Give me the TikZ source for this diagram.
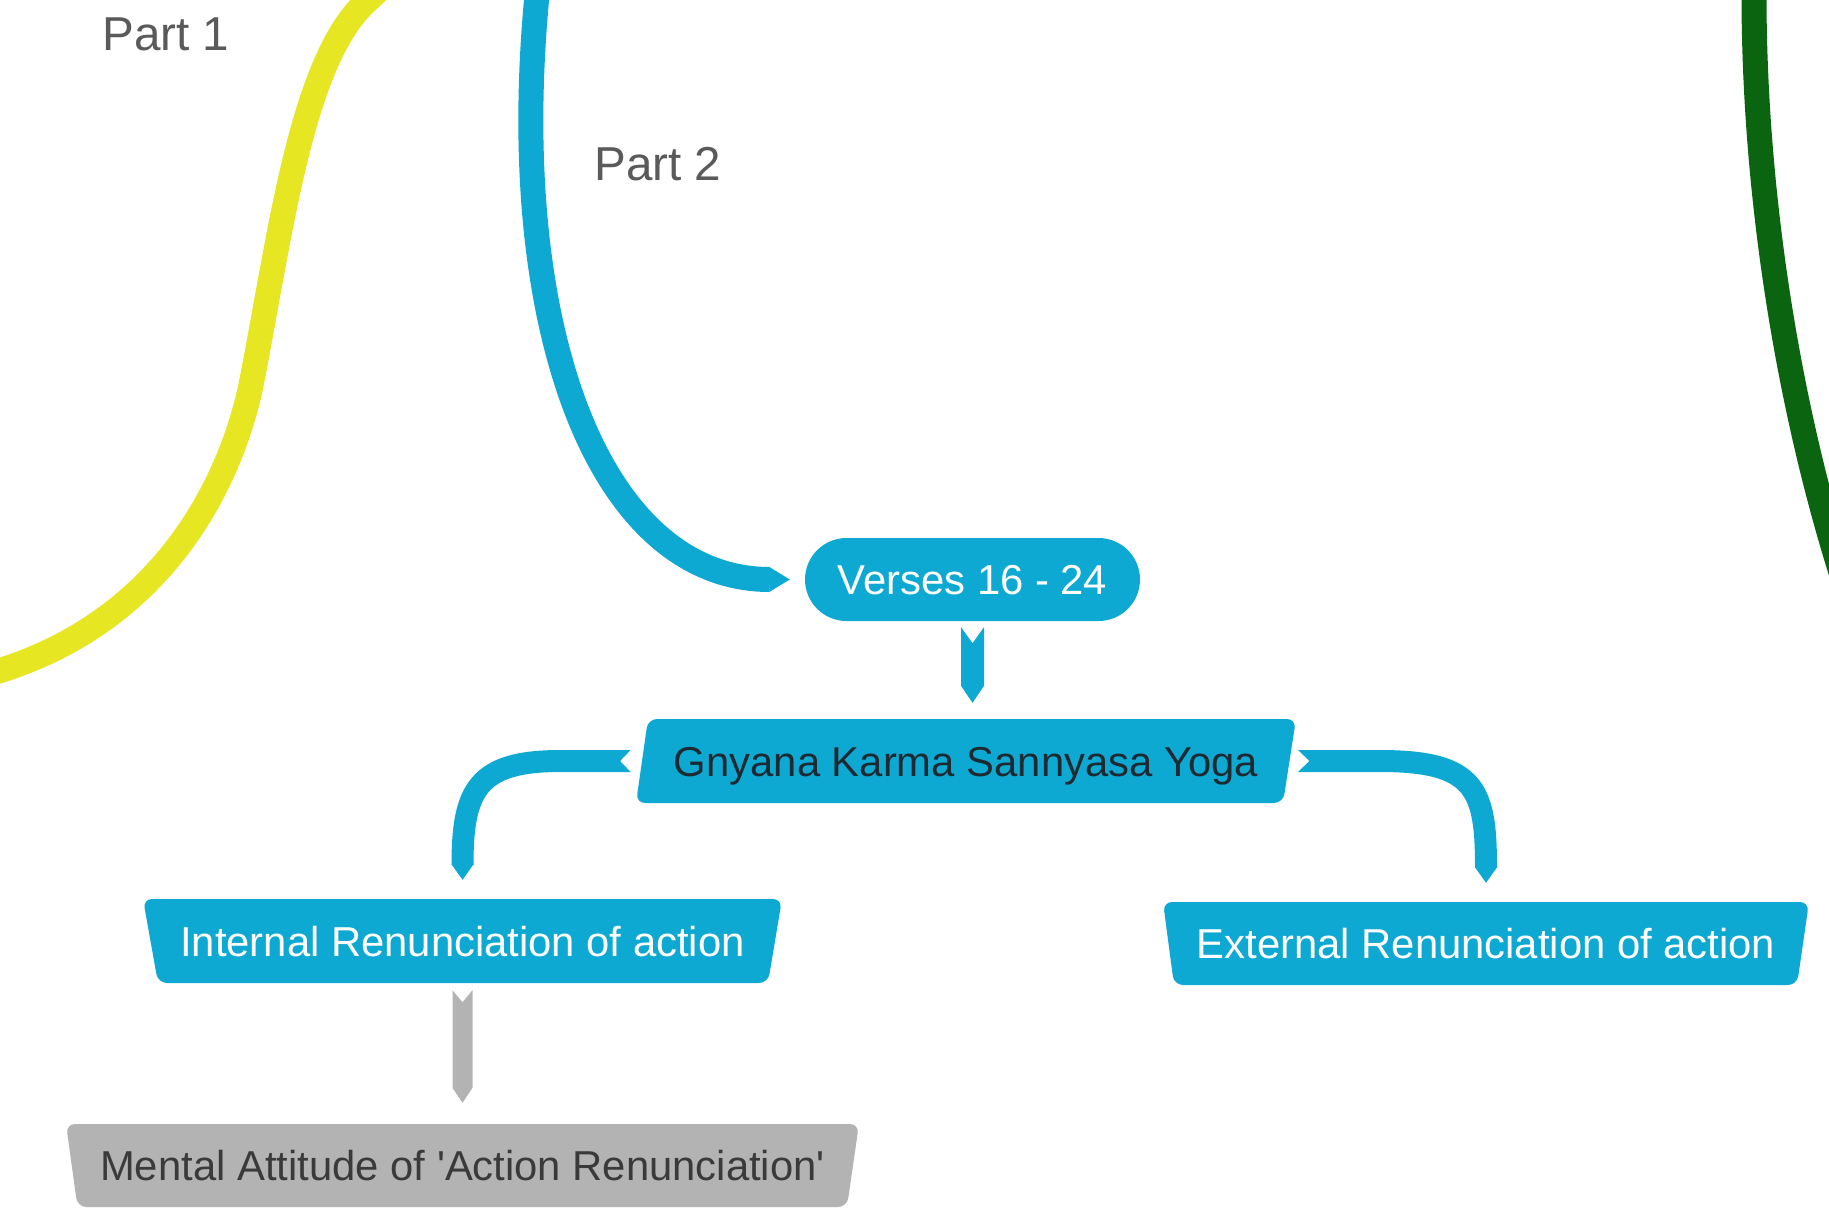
\documentclass[tikz,border=0pt]{standalone}
\usepackage{fontspec}
\setmainfont{Liberation Sans}
\usetikzlibrary{calc}
\definecolor{blueC}{RGB}{14,169,210}
\definecolor{yellowC}{RGB}{230,230,35}
\definecolor{greenC}{RGB}{11,101,16}
\definecolor{greyC}{RGB}{179,179,179}
\definecolor{darkT}{RGB}{30,42,50}
\definecolor{greyT}{RGB}{58,58,58}
\definecolor{partT}{RGB}{90,90,90}
\begin{document}
\begin{tikzpicture}[x=1pt,y=-1pt,
  lbl/.style={font=\fontsize{41.8}{50}\selectfont, text height=30pt, text depth=0pt, inner sep=0pt},
  tbox/.style n args={5}{lbl, path picture={\fill[#1, rounded corners=9pt]
      ([xshift=#2]path picture bounding box.north west) --
      ([xshift=-#3]path picture bounding box.north east) --
      ([xshift=-#4]path picture bounding box.south east) --
      ([xshift=#5]path picture bounding box.south west) -- cycle;}},
  pill/.style={lbl, fill=blueC, rounded corners=41.5pt, text=white},
  partlbl/.style={font=\fontsize{47.6}{56}\selectfont, text height=34pt, text depth=0pt, inner sep=0pt, text=partT},
  branch/.style={line width=25pt},
  ribbon/.style={line width=22pt},
]
\useasboundingbox (0,0) rectangle (1829,1213);
\fill[white] (0,0) rectangle (1829,1213);
\clip (0,0) rectangle (1829,1213);

% labels
\node[partlbl] (p1) at (166,33) {Part 1};
\node[partlbl] (p2) at (658,163) {Part 2};

% nodes
\node[pill, minimum width=335, minimum height=83] (verses) at (972.5,579.5) {Verses 16 - 24};
\node[tbox={blueC}{12}{0}{13}{0}, minimum width=660, minimum height=84, text=darkT] (gnyana) at (966,761) {Gnyana Karma Sannyasa Yoga};
\node[tbox={blueC}{0}{0}{14}{15}, minimum width=639, minimum height=84, text=white] (internal) at (462.5,941) {Internal Renunciation of action};
\node[tbox={blueC}{0}{0}{12}{11}, minimum width=646, minimum height=83, text=white] (external) at (1486,943.5) {External Renunciation of action};
\node[tbox={greyC}{0}{0}{12}{11.5}, minimum width=793, minimum height=83, text=greyT] (mental) at (462.5,1165.5) {Mental Attitude of \textquotesingle Action Renunciation\textquotesingle};

% main branches
\draw[branch, yellowC] (-15,675) .. controls (150,630) and (225,500) .. (250,390)
  .. controls (280,240) and (300,60) .. (368,0) -- (395,-25);
\draw[branch, greenC] (1754,-5) .. controls (1754,200) and (1790,420) .. (1850,600);
\coordinate (p2tip) at ($(verses.west)+(-15,0)$);
\coordinate (p2end) at ($(verses.west)+(-35,0)$);
\draw[branch, blueC] (537,-5) .. controls (505,330) and ($(p2end)+(-170,0)$) .. (p2end);
\fill[blueC] ($(p2end)+(-0.5,-12.5)$) -- (p2tip) -- ($(p2end)+(-0.5,12.5)$) -- cycle;

% verses -> gnyana
\coordinate (vg1) at ($(verses.south)+(0,6)$);
\coordinate (vg2) at ($(verses.south |- gnyana.north)+(0,-16)$);
\fill[blueC] ($(vg1)+(-11.5,0)$) -- ($(vg1)+(0,16)$) -- ($(vg1)+(11.5,0)$) --
  ($(vg2)+(11.5,-17)$) -- (vg2) -- ($(vg2)+(-11.5,-17)$) -- cycle;

% gnyana -> internal
\coordinate (gi1) at ($(gnyana.west)+(-4.5,0)$);
\coordinate (gi2) at ($(internal.north)+(0,-19)$);
\draw[ribbon, blueC] (gi1) -- ($(gi1)+(-71,0)$) .. controls ($(gi2 |- gi1)+(15,0)$) and ($(gi2)+(0,-90)$) .. ($(gi2)+(0,-15)$);
\fill[blueC] ($(gi2)+(-11,-15.5)$) -- (gi2) -- ($(gi2)+(11,-15.5)$) -- cycle;
\fill[white] ($(gi1)+(0.5,-12)$) -- ($(gi1)+(-11,0)$) -- ($(gi1)+(0.5,12)$) -- cycle;

% gnyana -> external
\coordinate (ge1) at ($(gnyana.east)+(1,0)$);
\coordinate (ge2) at ($(external.north)+(0,-19)$);
\draw[ribbon, blueC] (ge1) -- ($(ge1)+(83,0)$) .. controls ($(ge2 |- ge1)+(-10,0)$) and ($(ge2)+(0,-93)$) .. ($(ge2)+(0,-15)$);
\fill[blueC] ($(ge2)+(-11,-15.5)$) -- (ge2) -- ($(ge2)+(11,-15.5)$) -- cycle;
\fill[white] ($(ge1)+(-0.5,-12)$) -- ($(ge1)+(12,0)$) -- ($(ge1)+(-0.5,12)$) -- cycle;

% internal -> mental
\coordinate (im1) at ($(internal.south)+(0,7)$);
\coordinate (im2) at ($(mental.north)+(0,-21)$);
\fill[greyC] ($(im1)+(-10,0)$) -- ($(im1)+(0,12)$) -- ($(im1)+(10,0)$) --
  ($(im2)+(10,-15)$) -- (im2) -- ($(im2)+(-10,-15)$) -- cycle;
\end{tikzpicture}
\end{document}
